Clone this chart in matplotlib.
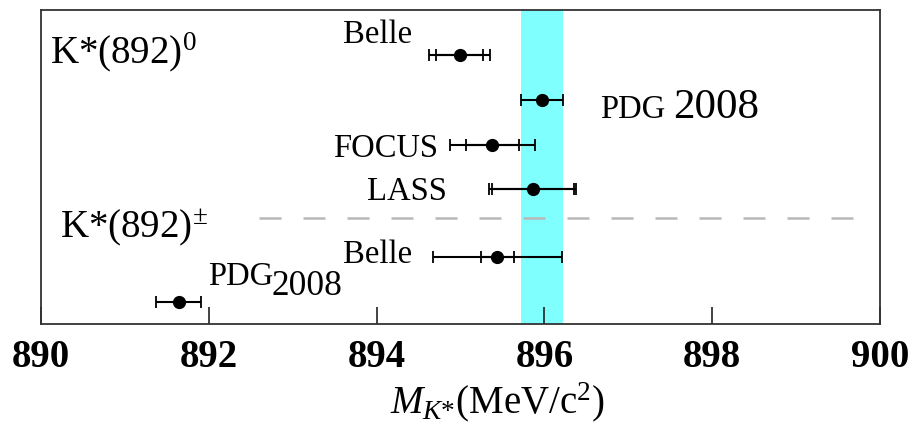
import matplotlib
matplotlib.use("Agg")
import matplotlib.pyplot as plt

plt.rcParams['font.family'] = ['Liberation Serif', 'DejaVu Serif']
plt.rcParams['mathtext.fontset'] = 'custom'
plt.rcParams['mathtext.rm'] = 'Liberation Serif'
plt.rcParams['mathtext.it'] = 'Liberation Serif:italic'
plt.rcParams['mathtext.bf'] = 'Liberation Serif:bold'

# ---- data ----
experiments = ["Belle", "PDG 2008", "FOCUS", "LASS", "Belle", "PDG 2008"]
mass = [894.99, 895.97, 895.38, 895.86, 895.44, 891.64]
stat_err = [0.28, None, 0.32, 0.49, 0.20, None]
total_err = [0.36, 0.25, 0.51, 0.52, 0.77, 0.27]
rows = [0, 1, 2, 3, 4.5, 5.5]
band_center = 895.97
band_halfwidth = 0.25
xticks = [890, 892, 894, 896, 898, 900]

fig = plt.figure(figsize=(9.10, 4.24), dpi=100)
ax = fig.add_axes([41/910, 1-324/424, (880-41)/910, (324-10)/424])

ax.axvspan(band_center - band_halfwidth, band_center + band_halfwidth,
           color='#80ffff', zorder=0, lw=0)

ax.plot([892.6, 899.85], [3.64, 3.64], color='#b8b8b8', lw=1.8,
        linestyle=(0, (8.8, 8.8)), zorder=1)

for m, s, t, r in zip(mass, stat_err, total_err, rows):
    ax.errorbar([m], [r], xerr=[t], fmt='o', color='black', ms=8.5,
                elinewidth=1.5, capsize=4.5, capthick=1.3, zorder=3)
    if s is not None:
        ax.errorbar([m], [r], xerr=[s], fmt='none', ecolor='black',
                    elinewidth=1.5, capsize=4.5, capthick=1.3, zorder=3)

lab = 23.5
ax.text(894.42, -0.27, experiments[0], fontsize=lab, ha='right', va='baseline')
ax.text(896.66, 1.40, "PDG", fontsize=lab, ha='left', va='baseline')
ax.text(897.53, 1.40, "2008", fontsize=31, ha='left', va='baseline')
ax.text(894.73, 2.27, experiments[2], fontsize=lab, ha='right', va='baseline')
ax.text(894.84, 3.23, experiments[3], fontsize=lab, ha='right', va='baseline')
ax.text(894.42, 4.64, experiments[4], fontsize=lab, ha='right', va='baseline')
ax.text(891.99, 5.13, "PDG", fontsize=lab, ha='left', va='baseline')
ax.text(892.75, 5.35, "2008", fontsize=25.5, ha='left', va='baseline')

ax.text(890.11, 0.18, r"K*(892)$^{\mathrm{0}}$", fontsize=28, ha='left', va='baseline')
ax.text(890.23, 4.06, r"K*(892)$^{\pm}$", fontsize=28, ha='left', va='baseline')

ax.set_xlim(890, 900)
ax.set_ylim(6.0, -1.0)
ax.set_xticks(xticks)
ax.set_xticklabels([str(v) for v in xticks], fontsize=28, fontweight='bold')
ax.tick_params(axis='x', direction='in', length=12, width=1.2, pad=11,
               top=False, color='#222222')
ax.set_yticks([])
for sp in ax.spines.values():
    sp.set_linewidth(1.3)
    sp.set_color('#333333')

ax.set_xlabel(r"$M_{K{*}}$(MeV/c$^{\mathrm{2}}$)", fontsize=28)
ax.xaxis.set_label_coords(0.544, -0.178)

fig.savefig("out.png", dpi=100)
